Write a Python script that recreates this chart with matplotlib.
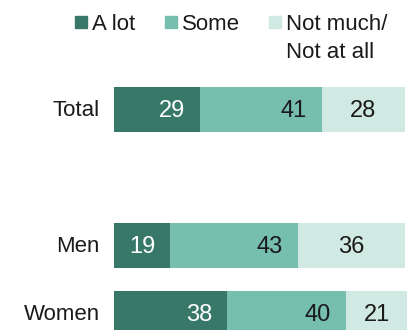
import matplotlib
matplotlib.use("Agg")
import matplotlib.pyplot as plt
from matplotlib.patches import Rectangle

plt.rcParams['font.family'] = ['Liberation Sans', 'DejaVu Sans']

# Data
categories = ["Total", "Men", "Women"]
series_names = ["A lot", "Some", "Not much/\nNot at all"]
a_lot = [29, 19, 38]
some = [41, 43, 40]
not_much = [28, 36, 21]

colors = ["#387868", "#76beae", "#d0e9e3"]
text_colors = ["white", "#1a1a1a", "#1a1a1a"]

W, H = 407, 330
fig = plt.figure(figsize=(W / 100, H / 100), dpi=100)

# Axes spans from the bar baseline to the right edge; 2.97 px per percentage point
left_px = 114
px_per_unit = 2.97
row_px = 68
first_center_px = 109.5
ax = fig.add_axes([left_px / W, 0, 1 - left_px / W, 1])
ax.set_xlim(0, (W - left_px) / px_per_unit)
ax.set_ylim((H - first_center_px) / row_px, -first_center_px / row_px)
ax.axis("off")

# Row positions: a blank row separates Total from the subgroups
positions = [0, 2, 3]
bar_h = 45 / row_px

series = [a_lot, some, not_much]
for i, pos in enumerate(positions):
    start = 0
    for s, vals in enumerate(series):
        v = vals[i]
        ax.barh(pos, v, left=start, height=bar_h, color=colors[s], edgecolor="none")
        if s < 2:
            ax.annotate(str(v), xy=(start + v, pos), xytext=(-10.8, -1),
                        textcoords="offset points", ha="right", va="center",
                        fontsize=17, color=text_colors[s])
        else:
            ax.annotate(str(v), xy=(start + v / 2, pos), xytext=(0, -1),
                        textcoords="offset points", ha="center", va="center",
                        fontsize=17, color=text_colors[s])
        start += v
    ax.annotate(categories[i], xy=(0, pos), xytext=(-10.1, -1),
                textcoords="offset points", ha="right", va="center",
                fontsize=16, color="#1a1a1a", annotation_clip=False)

# Legend drawn in figure pixel coordinates
legend_x = [75, 165, 269]
line_px = 28
for s, name in enumerate(series_names):
    x0 = legend_x[s]
    fig.patches.append(Rectangle((x0 / W, 1 - 28 / H), 12 / W, 12 / H,
                                 transform=fig.transFigure, color=colors[s]))
    for k, line in enumerate(name.split("\n")):
        fig.text((x0 + 17) / W, 1 - (29.5 + k * line_px) / H, line,
                 ha="left", va="baseline", fontsize=16, color="#1a1a1a")

fig.savefig("out.png", dpi=100)
